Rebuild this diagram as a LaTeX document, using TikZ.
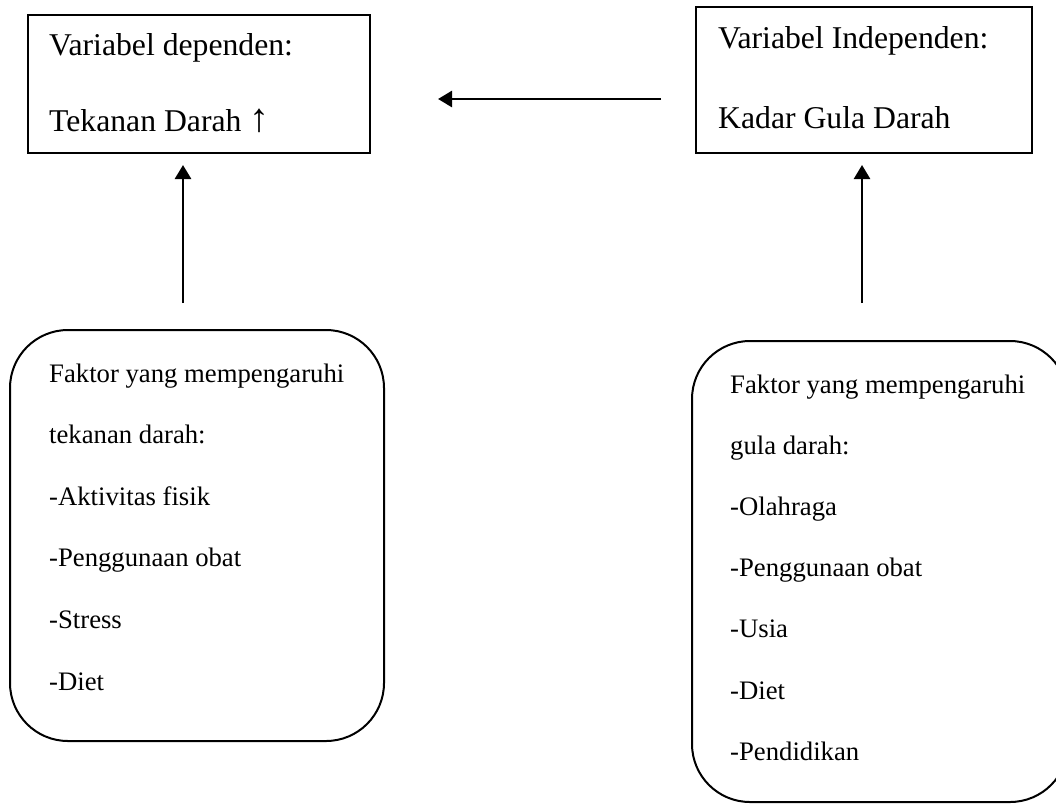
\documentclass[tikz,border=0pt]{standalone}
\usepackage{fontspec}
\setmainfont{Liberation Serif}
\usetikzlibrary{arrows.meta}
\newcommand\fnbig{\fontsize{31.7}{37}\selectfont}
\newcommand\fnsmall{\fontsize{26.7}{31}\selectfont}
\begin{document}
\begin{tikzpicture}[x=1pt,y=-1pt,
  sqbox/.style={draw,line width=2pt,inner sep=0pt,rectangle},
  rbox/.style={draw,line width=2pt,inner sep=0pt,rectangle,rounded corners=58pt},
  arr/.style={line width=2.6pt,-{Triangle[length=14pt,width=16pt]}},
  bigtxt/.style={anchor=base west,inner sep=0pt,font=\fnbig},
  smtxt/.style={anchor=base west,inner sep=0pt,font=\fnsmall}]
\useasboundingbox (0,0) rectangle (1056,803);
\clip (0,0) rectangle (1056,803);
\fill[white] (0,0) rectangle (1056,803);
% top boxes
\node[sqbox,minimum width=342pt,minimum height=138pt] (dep) at (199,84) {};
\node[sqbox,minimum width=336pt,minimum height=146pt] (indep) at (864,80) {};
\node[bigtxt] (dep1) at (49,55) {Variabel dependen:};
\node[bigtxt] (dep2) at (49,131) {Tekanan Darah {\fontsize{40}{40}\selectfont ↑}};
\node[bigtxt] (ind1) at (718,48) {Variabel Independen:};
\node[bigtxt] (ind2) at (718,128) {Kadar Gula Darah};
% bottom boxes
\node[rbox,minimum width=374pt,minimum height=411pt] (fl) at (197,535.5) {};
\node[rbox,minimum width=376pt,minimum height=461pt] (fr) at (880,571.5) {};
\foreach \t [count=\i from 0] in {Faktor yang mempengaruhi,tekanan darah:,-Aktivitas fisik,-Penggunaan obat,-Stress,-Diet}
  \node[smtxt] (fl\i) at (49,382+61.6*\i) {\t};
\foreach \t [count=\i from 0] in {Faktor yang mempengaruhi,gula darah:,-Olahraga,-Penggunaan obat,-Usia,-Diet,-Pendidikan}
  \node[smtxt] (fr\i) at (730,393+61.2*\i) {\t};
% connectors
\coordinate (h1) at (661,99);
\coordinate (h2) at (438,99);
\coordinate (vl1) at (183,303);
\coordinate (vl2) at (183,165);
\coordinate (vr1) at (862,303);
\coordinate (vr2) at (862,165);
\draw[arr] (h1) -- (h2);
\draw[arr] (vl1) -- (vl2);
\draw[arr] (vr1) -- (vr2);
\end{tikzpicture}
\end{document}
